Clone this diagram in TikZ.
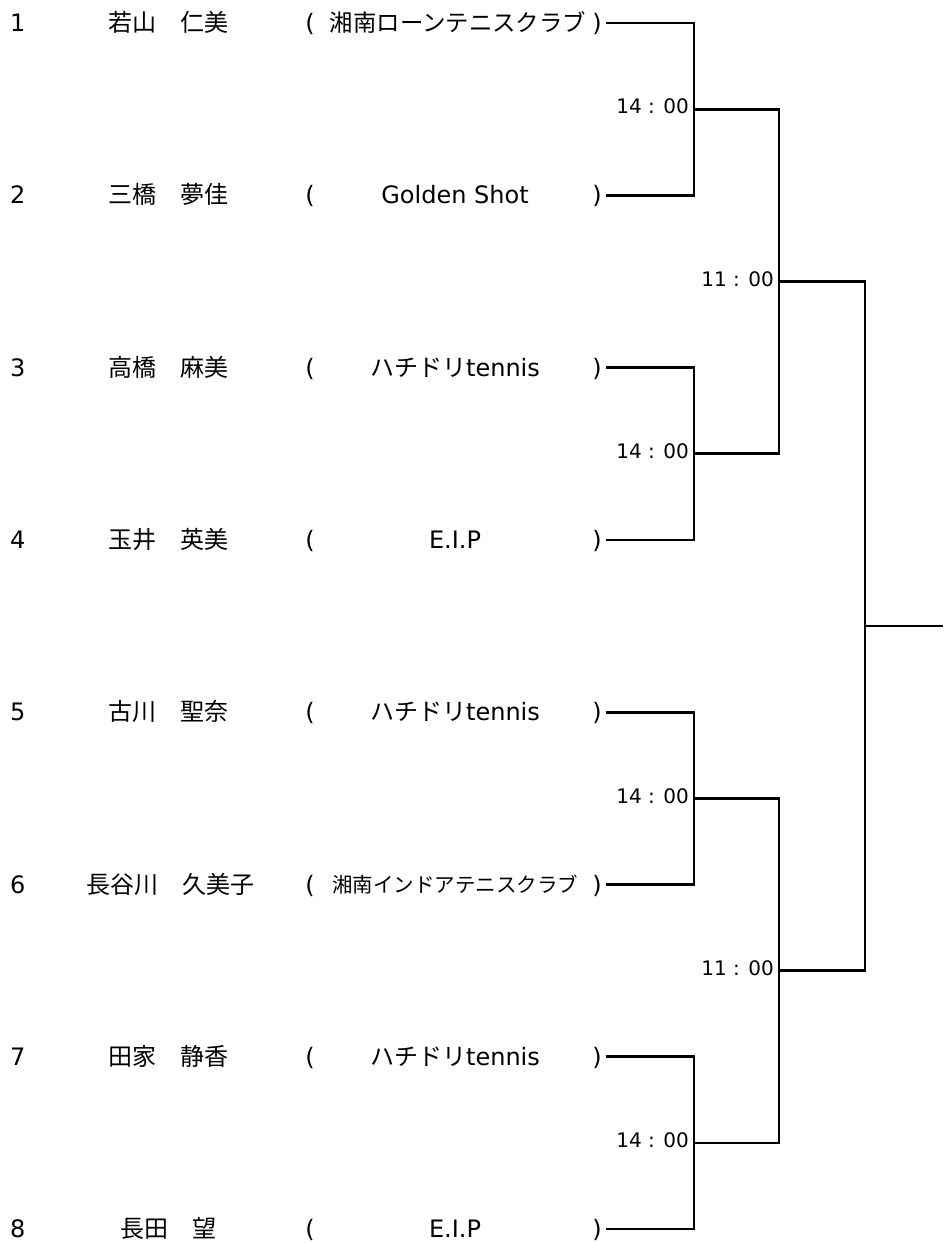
\documentclass[tikz,border=0pt]{standalone}
\usepackage{fontspec}
\setmainfont{DejaVu Sans}
\newfontfamily\jp{Noto Sans CJK JP}

\begin{document}
\begin{tikzpicture}[x=1pt,y=-1pt,%
  txt/.style={inner sep=0pt,anchor=base,yshift=-8.6pt,font=\fontsize{24}{28}\selectfont},
  num/.style={txt,anchor=base west},
  longclub/.style={txt,yshift=0.6pt,font=\fontsize{#1}{26}\selectfont},
  time/.style={inner sep=0pt,anchor=base east,yshift=-4.7pt,font=\fontsize{20}{24}\selectfont},
  wire/.style={line width=2.7pt}]
  \useasboundingbox (0,0) rectangle (943,1243);
  % players, one row each
  \node[num] (num1) at (10,23) {1};
  \node[txt] (name1) at (168,23) {\jp 若山　仁美};
  \node[txt] (lp1) at (310,23) {(};
  \node[longclub=23.4] (club1) at (458,23) {\jp 湘南ローンテニスクラブ};
  \node[txt] (rp1) at (597,23) {)};
  \node[num] (num2) at (10,195.3) {2};
  \node[txt] (name2) at (168,195.3) {\jp 三橋　夢佳};
  \node[txt] (lp2) at (310,195.3) {(};
  \node[txt] (club2) at (455,195.3) {Golden Shot};
  \node[txt] (rp2) at (597,195.3) {)};
  \node[num] (num3) at (10,367.6) {3};
  \node[txt] (name3) at (168,367.6) {\jp 高橋　麻美};
  \node[txt] (lp3) at (310,367.6) {(};
  \node[txt] (club3) at (455,367.6) {{\jp ハチドリ}tennis};
  \node[txt] (rp3) at (597,367.6) {)};
  \node[num] (num4) at (10,539.9) {4};
  \node[txt] (name4) at (168,539.9) {\jp 玉井　英美};
  \node[txt] (lp4) at (310,539.9) {(};
  \node[txt] (club4) at (455,539.9) {E.I.P};
  \node[txt] (rp4) at (597,539.9) {)};
  \node[num] (num5) at (10,712.2) {5};
  \node[txt] (name5) at (168,712.2) {\jp 古川　聖奈};
  \node[txt] (lp5) at (310,712.2) {(};
  \node[txt] (club5) at (455,712.2) {{\jp ハチドリ}tennis};
  \node[txt] (rp5) at (597,712.2) {)};
  \node[num] (num6) at (10,884.5) {6};
  \node[txt] (name6) at (170,884.5) {\jp 長谷川　久美子};
  \node[txt] (lp6) at (310,884.5) {(};
  \node[longclub=20.5] (club6) at (455,884.5) {\jp 湘南インドアテニスクラブ};
  \node[txt] (rp6) at (597,884.5) {)};
  \node[num] (num7) at (10,1056.8) {7};
  \node[txt] (name7) at (168,1056.8) {\jp 田家　静香};
  \node[txt] (lp7) at (310,1056.8) {(};
  \node[txt] (club7) at (455,1056.8) {{\jp ハチドリ}tennis};
  \node[txt] (rp7) at (597,1056.8) {)};
  \node[num] (num8) at (10,1229.1) {8};
  \node[txt] (name8) at (168,1229.1) {\jp 長田　望};
  \node[txt] (lp8) at (310,1229.1) {(};
  \node[txt] (club8) at (455,1229.1) {E.I.P};
  \node[txt] (rp8) at (597,1229.1) {)};
  % line starts after the closing bracket
  \coordinate (s1) at (606,23);
  \coordinate (s2) at (606,195.3);
  \coordinate (s3) at (606,367.6);
  \coordinate (s4) at (606,539.9);
  \coordinate (s5) at (606,712.2);
  \coordinate (s6) at (606,884.5);
  \coordinate (s7) at (606,1056.8);
  \coordinate (s8) at (606,1229.1);
  % match points of the draw
  \coordinate (m1) at (694,109.15);   % first round
  \coordinate (m2) at (694,453.75);
  \coordinate (m3) at (694,798.35);
  \coordinate (m4) at (694,1142.95);
  \coordinate (q1) at (779,281.45);   % semi final
  \coordinate (q2) at (779,970.65);
  \coordinate (f1) at (865,626.05);   % final
  \coordinate (w) at (943,626.05);
  \node[time] (tm1) at (689,109.15) {14 : 00};
  \node[time] (tm2) at (689,453.75) {14 : 00};
  \node[time] (tm3) at (689,798.35) {14 : 00};
  \node[time] (tm4) at (689,1142.95) {14 : 00};
  \node[time] (tq1) at (774,281.45) {11 : 00};
  \node[time] (tq2) at (774,970.65) {11 : 00};
  \draw[wire] (s1) -| (m1) |- (s2);
  \draw[wire] (s3) -| (m2) |- (s4);
  \draw[wire] (s5) -| (m3) |- (s6);
  \draw[wire] (s7) -| (m4) |- (s8);
  \draw[wire] (m1) -| (q1) |- (m2);
  \draw[wire] (m3) -| (q2) |- (m4);
  \draw[wire] (q1) -| (f1) |- (q2);
  \draw[wire] (f1) -- (w);
\end{tikzpicture}
\end{document}
